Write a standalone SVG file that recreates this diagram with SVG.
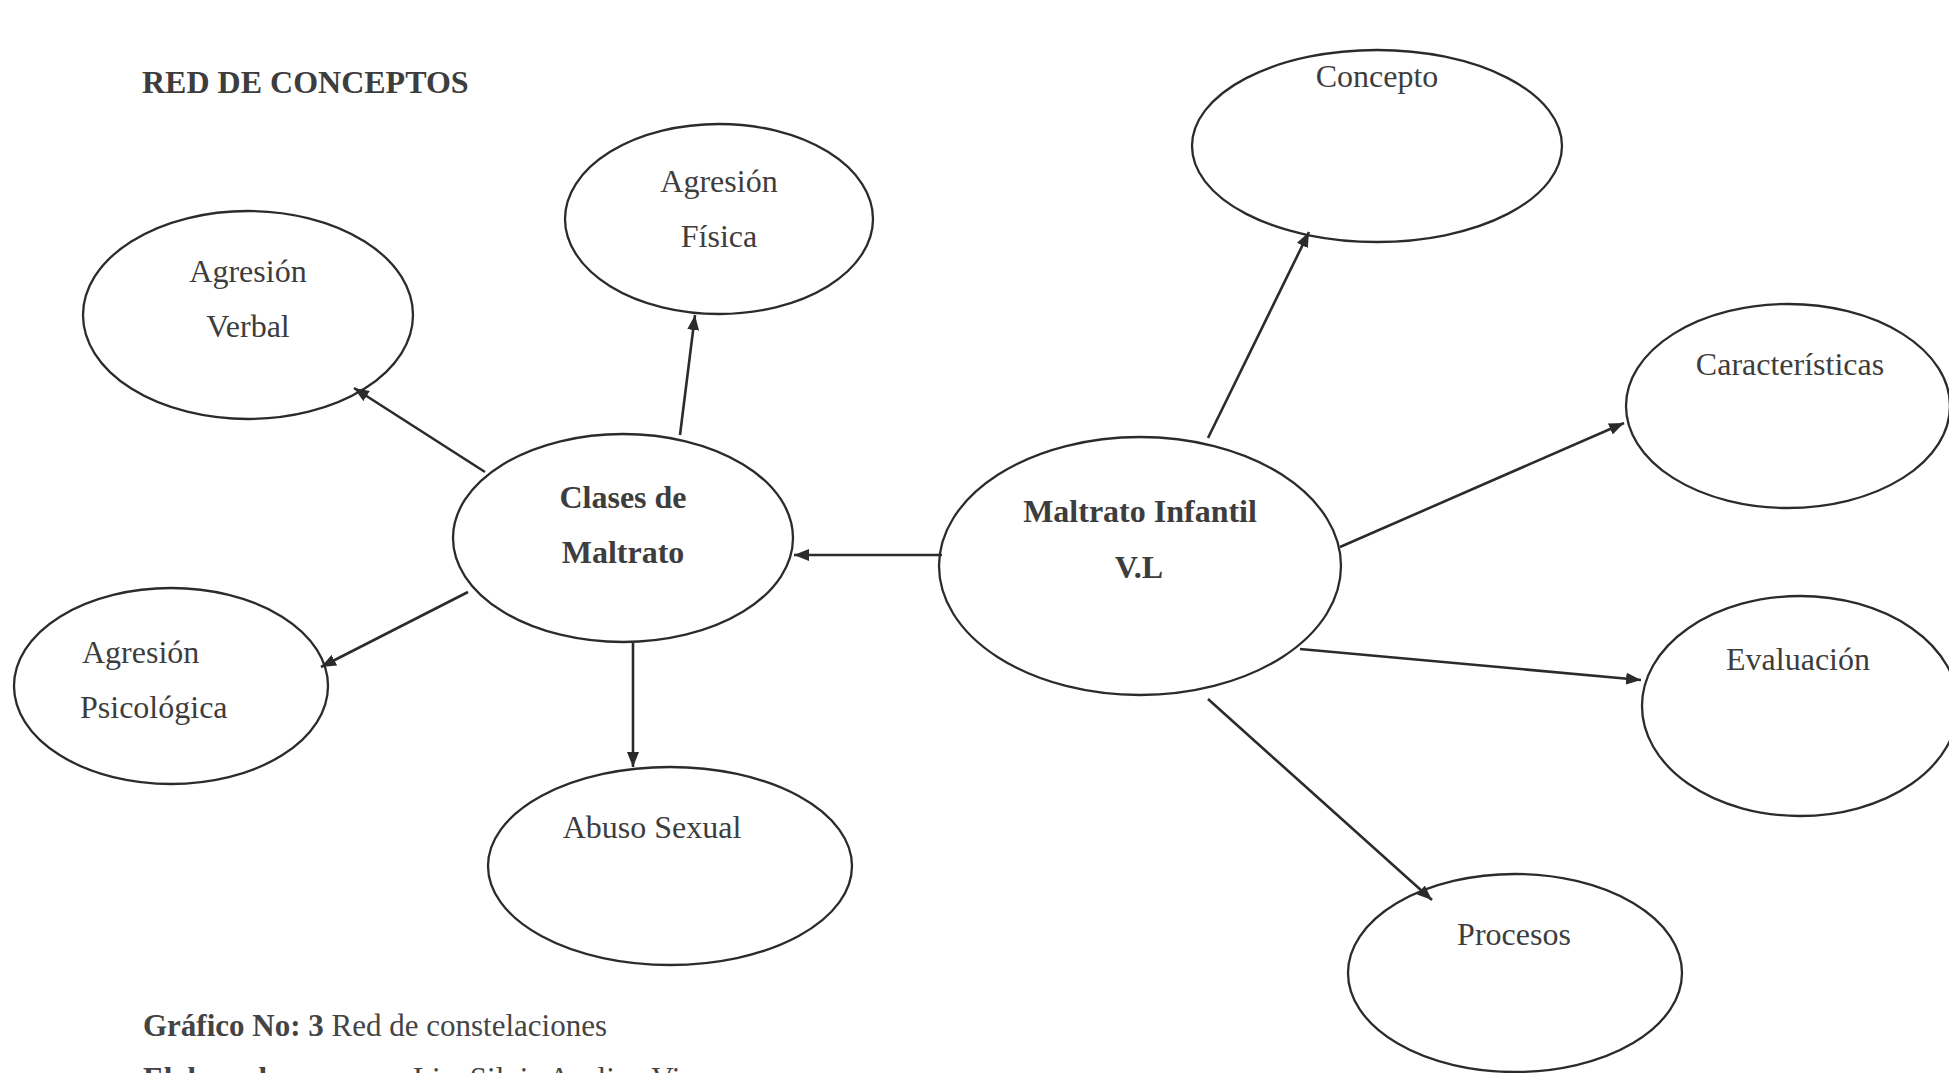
<svg xmlns="http://www.w3.org/2000/svg" width="1949" height="1073" viewBox="0 0 1949 1073">
<style>
.bg{fill:#ffffff}
.node ellipse{fill:none;stroke:#2b2b2b;stroke-width:2.3}
.t{font-family:"Liberation Serif","Times New Roman",serif;font-size:32px;fill:#3d3d3d}
.b{font-weight:bold}
.c{text-anchor:middle}
.edge{stroke:#2b2b2b;stroke-width:2.6;fill:none;marker-end:url(#ah)}
.cap{font-family:"Liberation Serif","Times New Roman",serif;font-size:31px;fill:#444}
</style>
<defs>
<marker id="ah" markerUnits="userSpaceOnUse" markerWidth="16" markerHeight="12" refX="15" refY="6" orient="auto">
<path d="M0,0 L15,6 L0,12 z" fill="#2b2b2b"/>
</marker>
</defs>
<rect class="bg" x="0" y="0" width="1949" height="1073"/>
<text class="t b" x="142" y="93">RED DE CONCEPTOS</text>

<g id="connectors">
<line class="edge" x1="485" y1="472" x2="354" y2="388"/>
<line class="edge" x1="680" y1="435" x2="695" y2="315"/>
<line class="edge" x1="468" y1="592" x2="321" y2="667"/>
<line class="edge" x1="633" y1="643" x2="633" y2="767"/>
<line class="edge" x1="942" y1="555" x2="794" y2="555"/>
<line class="edge" x1="1208" y1="438" x2="1309" y2="232"/>
<line class="edge" x1="1340" y1="547" x2="1624" y2="423"/>
<line class="edge" x1="1300" y1="649" x2="1641" y2="680"/>
<line class="edge" x1="1208" y1="699" x2="1432" y2="900"/>
</g>

<g id="verbal" class="node">
<ellipse cx="248" cy="315" rx="165" ry="104"/>
<text class="t c" x="248" y="282">Agresión</text>
<text class="t c" x="248" y="337">Verbal</text>
</g>
<g id="fisica" class="node">
<ellipse cx="719" cy="219" rx="154" ry="95"/>
<text class="t c" x="719" y="192">Agresión</text>
<text class="t c" x="719" y="247">Física</text>
</g>
<g id="clases" class="node">
<ellipse cx="623" cy="538" rx="170" ry="104"/>
<text class="t b c" x="623" y="508">Clases de</text>
<text class="t b c" x="623" y="563">Maltrato</text>
</g>
<g id="psicologica" class="node">
<ellipse cx="171" cy="686" rx="157" ry="98"/>
<text class="t" x="82" y="663">Agresión</text>
<text class="t" x="80" y="718">Psicológica</text>
</g>
<g id="abuso" class="node">
<ellipse cx="670" cy="866" rx="182" ry="99"/>
<text class="t c" x="652" y="838">Abuso Sexual</text>
</g>
<g id="maltrato" class="node">
<ellipse cx="1140" cy="566" rx="201" ry="129"/>
<text class="t b c" x="1140" y="522">Maltrato Infantil</text>
<text class="t b c" x="1139" y="578">V.L</text>
</g>
<g id="concepto" class="node">
<ellipse cx="1377" cy="146" rx="185" ry="96"/>
<text class="t c" x="1377" y="87">Concepto</text>
</g>
<g id="caracteristicas" class="node">
<ellipse cx="1788" cy="406" rx="162" ry="102"/>
<text class="t c" x="1790" y="375">Características</text>
</g>
<g id="evaluacion" class="node">
<ellipse cx="1800" cy="706" rx="158" ry="110"/>
<text class="t c" x="1798" y="670">Evaluación</text>
</g>
<g id="procesos" class="node">
<ellipse cx="1515" cy="973" rx="167" ry="99"/>
<text class="t c" x="1514" y="945">Procesos</text>
</g>

<text class="cap" x="143" y="1036"><tspan font-weight="bold">Gráfico No: 3</tspan> Red de constelaciones</text>
<text class="cap" x="143" y="1089"><tspan font-weight="bold">Elaborado por:</tspan></text>
<text class="cap" x="413" y="1089">Lic. Silvia Avelina Vi</text>
</svg>
